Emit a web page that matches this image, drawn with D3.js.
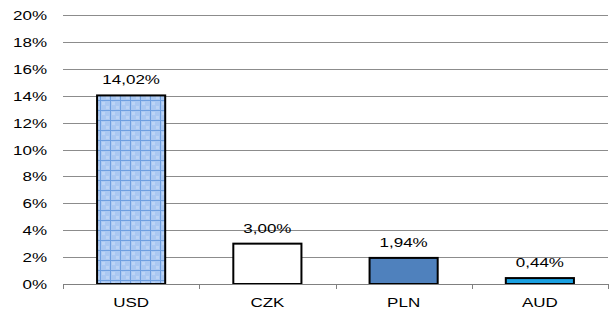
<!DOCTYPE html>
<html>
<head>
<meta charset="utf-8">
<script src="https://cdn.jsdelivr.net/npm/d3@7"></script>
<style>
  body { margin: 0; background: #fff; }
  text { font-family: "Liberation Sans", Arial, sans-serif; font-size: 12.6px; fill: #000; }
</style>
</head>
<body>
<div id="chart"></div>
<script>
const categories = ["USD", "CZK", "PLN", "AUD"];
const values = [14.02, 3.00, 1.94, 0.44];
const yTicks = [0, 2, 4, 6, 8, 10, 12, 14, 16, 18, 20];
const fills = ["url(#grid)", "#ffffff", "#4f81bd", "#1ba1e2"];

const width = 610, height = 316;
const plotLeft = 63, plotRight = 608, plotTop = 15, plotBottom = 284;
const stretch = 1.35; // the text in the picture is wider than normal

const svg = d3.select("#chart").append("svg")
  .attr("width", width)
  .attr("height", height);

// checkered pattern for the first bar
const pat = svg.append("defs").append("pattern")
  .attr("id", "grid")
  .attr("patternUnits", "userSpaceOnUse")
  .attr("width", 10).attr("height", 10);
pat.append("rect").attr("width", 10).attr("height", 10).attr("fill", "#aac8f2");
pat.append("rect").attr("x", 2).attr("y", 2).attr("width", 3).attr("height", 3).attr("fill", "#bcd4f5");
pat.append("rect").attr("x", 6).attr("y", 6).attr("width", 3).attr("height", 3).attr("fill", "#bcd4f5");
pat.append("line").attr("x1", 0).attr("x2", 10).attr("y1", 0.5).attr("y2", 0.5)
  .attr("stroke", "#6e9fe0").attr("stroke-width", 1);
pat.append("line").attr("y1", 0).attr("y2", 10).attr("x1", 0.5).attr("x2", 0.5)
  .attr("stroke", "#6e9fe0").attr("stroke-width", 1);

const x = d3.scaleBand()
  .domain(categories)
  .range([plotLeft, plotRight])
  .paddingInner(0.5)
  .paddingOuter(0.25);

const y = d3.scaleLinear()
  .domain([0, 20])
  .range([plotBottom, plotTop]);

function place(tx, ty) {
  return "translate(" + tx + "," + ty + ") scale(" + stretch + ",1)";
}

// gridlines
svg.append("g")
  .selectAll("line")
  .data(yTicks.filter(d => d > 0))
  .enter()
  .append("line")
  .attr("x1", plotLeft).attr("x2", plotRight)
  .attr("y1", d => Math.round(y(d)) + 0.5)
  .attr("y2", d => Math.round(y(d)) + 0.5)
  .attr("stroke", "#8c8c8c");

// y axis labels
svg.append("g")
  .selectAll("text")
  .data(yTicks)
  .enter()
  .append("text")
  .attr("transform", d => place(47, y(d) + 5))
  .attr("text-anchor", "end")
  .text(d => d + "%");

// bars
svg.append("g")
  .selectAll("rect")
  .data(values)
  .enter()
  .append("rect")
  .attr("x", (d, i) => x(categories[i]))
  .attr("y", d => y(d))
  .attr("width", x.bandwidth())
  .attr("height", d => plotBottom - y(d))
  .attr("fill", (d, i) => fills[i])
  .attr("stroke", "#000")
  .attr("stroke-width", 2);

// value labels
svg.append("g")
  .selectAll("text")
  .data(values)
  .enter()
  .append("text")
  .attr("transform", (d, i) => place(x(categories[i]) + x.bandwidth() / 2, y(d) - 11))
  .attr("text-anchor", "middle")
  .text(d => d.toFixed(2).replace(".", ",") + "%");

// x axis
const step = x.step();
const xAxis = svg.append("g");
xAxis.append("line")
  .attr("x1", plotLeft).attr("x2", plotRight)
  .attr("y1", plotBottom + 0.5).attr("y2", plotBottom + 0.5)
  .attr("stroke", "#808080");
xAxis.selectAll("line.tick")
  .data(d3.range(categories.length + 1))
  .enter()
  .append("line")
  .attr("class", "tick")
  .attr("x1", i => Math.round(plotLeft + i * step) + 0.5)
  .attr("x2", i => Math.round(plotLeft + i * step) + 0.5)
  .attr("y1", plotBottom).attr("y2", plotBottom + 5)
  .attr("stroke", "#808080");
xAxis.selectAll("text")
  .data(categories)
  .enter()
  .append("text")
  .attr("transform", d => place(x(d) + x.bandwidth() / 2, plotBottom + 23))
  .attr("text-anchor", "middle")
  .text(d => d);
</script>
</body>
</html>
